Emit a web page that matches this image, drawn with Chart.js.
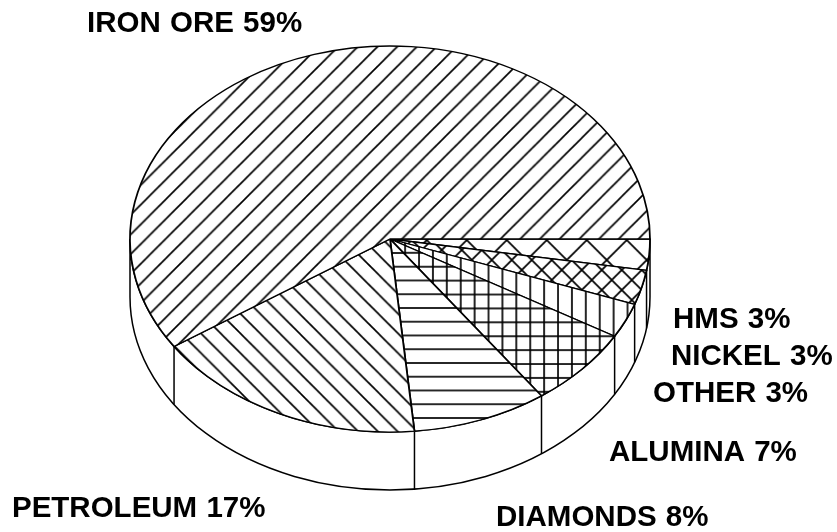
<!DOCTYPE html>
<html>
<head>
<meta charset="utf-8">
<style>html,body{margin:0;padding:0;background:#fff}canvas{display:block}</style>
<script src="https://cdn.jsdelivr.net/npm/chart.js@4"></script>
</head>
<body>
<canvas id="c" width="837" height="532"></canvas>
<script>
// Data, clockwise from 3 o'clock
const categories = ['HMS', 'NICKEL', 'OTHER', 'ALUMINA', 'DIAMONDS', 'PETROLEUM', 'IRON ORE'];
const shares = [2.6, 2.9, 2.9, 6.7, 8.4, 17.1, 59.4];

// Styling, kept apart from the data
const INK = '#000';
const FONT = 'bold 29.5px "Liberation Sans"';
const WORD_GAP = '1px';
const DISC = {cx: 390, cy: 239, rx: 260, ry: 193, depth: 58};
const hatches = [
  {kinds: ['/', '\\'], period: 40, px: 506.7, py: 0},
  {kinds: ['/', '\\'], period: 20, px: 591.7, py: 280},
  {kinds: ['|'], period: 13.9, px: 419, py: 0},
  {kinds: ['|', '-'], period: 13.9, px: 419, py: 266.7},
  {kinds: ['-'], period: 13.75, px: 0, py: 266.7},
  {kinds: ['\\'], period: 19.7, px: -73.3, py: 0},
  {kinds: ['/'], period: 19.7, px: 700, py: 0}
];
const labelSpots = [
  {x: 673, y: 328}, {x: 671, y: 365}, {x: 653, y: 402}, {x: 609, y: 461},
  {x: 496, y: 526}, {x: 12, y: 517}, {x: 87, y: 32}
];

function makePattern(h) {
  const s = Math.round(h.period);
  const t = document.createElement('canvas');
  t.width = t.height = s;
  const g = t.getContext('2d');
  g.fillStyle = '#fff';
  g.fillRect(0, 0, s, s);
  g.strokeStyle = INK;
  g.lineWidth = 1.7;
  const seg = (a, b, c, d) => { g.beginPath(); g.moveTo(a, b); g.lineTo(c, d); g.stroke(); };
  h.kinds.forEach(k => {
    if (k === '/') { seg(-1, s + 1, s + 1, -1); seg(-1, 1, 1, -1); seg(s - 1, s + 1, s + 1, s - 1); }
    if (k === '\\') { seg(-1, -1, s + 1, s + 1); seg(s - 1, -1, s + 1, 1); seg(-1, s - 1, 1, s + 1); }
    if (k === '-') { seg(0, 0, s, 0); seg(0, s, s, s); }
    if (k === '|') { seg(0, 0, 0, s); seg(s, 0, s, s); }
  });
  const p = g.createPattern(t, 'repeat');
  p.tileScale = h.period / s;
  return p;
}
const patterns = hatches.map(makePattern);

const discPlugin = {
  id: 'disc',
  beforeDatasetsDraw(chart) {
    const {ctx} = chart;
    const arcs = chart.getDatasetMeta(0).data;
    const el = arcs[0];
    const sx = DISC.rx / el.outerRadius, sy = DISC.ry / el.outerRadius;
    const ctm = new DOMMatrix().translate(DISC.cx, DISC.cy).scale(sx, sy).translate(-el.x, -el.y);
    const inv = ctm.inverse();
    patterns.forEach((p, i) => {
      const h = hatches[i];
      p.setTransform(inv.translate(h.px, h.py).scale(p.tileScale));
    });
    // Wall of the disc
    const {cx, cy, rx, ry, depth} = DISC;
    ctx.save();
    ctx.strokeStyle = INK;
    ctx.lineWidth = 1.5;
    ctx.fillStyle = '#fff';
    ctx.beginPath();
    ctx.ellipse(cx, cy, rx, ry, 0, 0, Math.PI);
    ctx.lineTo(cx - rx, cy + depth);
    ctx.ellipse(cx, cy + depth, rx, ry, 0, Math.PI, 0, true);
    ctx.closePath();
    ctx.fill();
    ctx.stroke();
    arcs.forEach(a => {
      const t = a.endAngle;
      if (Math.sin(t) > 0) {
        const x = cx + rx * Math.cos(t), y = cy + ry * Math.sin(t);
        ctx.beginPath();
        ctx.moveTo(x, y);
        ctx.lineTo(x, y + depth);
        ctx.stroke();
      }
    });
    ctx.restore();
    // Flatten the pie the library is about to draw
    ctx.save();
    ctx.setTransform(ctm);
  },
  afterDatasetsDraw(chart) {
    const {ctx} = chart;
    ctx.restore();
    ctx.save();
    ctx.font = FONT;
    ctx.wordSpacing = WORD_GAP;
    ctx.fillStyle = INK;
    ctx.textBaseline = 'alphabetic';
    ctx.textAlign = 'left';
    categories.forEach((c, i) => {
      ctx.fillText(c + ' ' + Math.round(shares[i]) + '%', labelSpots[i].x, labelSpots[i].y);
    });
    ctx.restore();
  }
};

new Chart(document.getElementById('c'), {
  type: 'pie',
  data: {
    labels: categories,
    datasets: [{
      data: shares,
      backgroundColor: patterns,
      borderColor: INK,
      borderWidth: 1.8,
      borderJoinStyle: 'round'
    }]
  },
  options: {
    responsive: false,
    animation: false,
    events: [],
    rotation: 90,
    layout: {padding: 0},
    plugins: {legend: {display: false}, tooltip: {enabled: false}}
  },
  plugins: [discPlugin]
});
</script>
</body>
</html>
